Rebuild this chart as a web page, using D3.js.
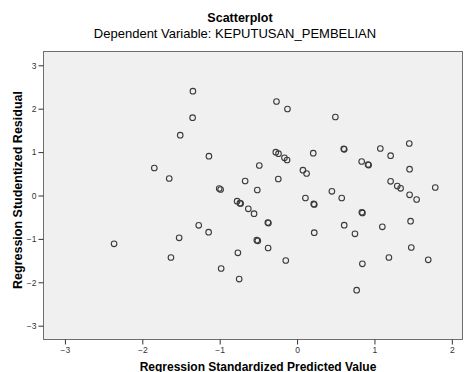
<!DOCTYPE html>
<html>
<head>
<meta charset="utf-8">
<script src="https://cdn.jsdelivr.net/npm/d3@7"></script>
<style>
  body { margin: 0; background: #fff; }
  svg { display: block; font-family: "Liberation Sans", Arial, sans-serif; }
</style>
</head>
<body>
<svg id="chart" width="464" height="372"></svg>
<script>
// predicted (standardized) values
const predicted = [
  -2.365, -1.845, -1.652, -1.630, -1.524, -1.510, -1.350, -1.346, -1.271, -1.143,
  -1.139, -1.006, -0.988, -0.981, -0.775, -0.739, -0.729, -0.765, -0.748, -0.671,
  -0.630, -0.556, -0.514, -0.520, -0.507, -0.488, -0.378, -0.370, -0.374, -0.266,
  -0.275, -0.240, -0.243, -0.163, -0.129, -0.146, -0.124, 0.076, 0.123, 0.108,
  0.209, 0.215, 0.223, 0.222, 0.450, 0.495, 0.577, 0.603, 0.610, 0.609,
  0.748, 0.770, 0.835, 0.837, 0.845, 0.844, 0.917, 0.925, 1.076, 1.102,
  1.187, 1.209, 1.209, 1.295, 1.338, 1.450, 1.454, 1.454, 1.467, 1.476,
  1.545, 1.695, 1.786
];
// studentized residuals, same order
const residual = [
  -1.113, 0.634, 0.392, -1.429, -0.975, 1.389, 1.793, 2.403, -0.687, -0.846,
  0.906, 0.161, 0.138, -1.682, -0.131, -0.177, -0.184, -1.320, -1.926, 0.334,
  -0.306, -0.419, 0.127, -1.030, -1.044, 0.691, -0.622, -0.636, -1.210, 2.166,
  0.998, 0.963, 0.380, 0.869, 0.818, -1.498, 1.993, 0.583, 0.507, -0.058,
  0.975, -0.194, -0.207, -0.857, 0.097, 1.809, -0.058, 1.076, 1.065, -0.684,
  -0.882, -2.182, 0.783, -0.387, -0.401, -1.574, 0.714, 0.700, 1.083, -0.721,
  -1.429, 0.917, 0.327, 0.219, 0.166, 1.198, 0.606, 0.016, -0.592, -1.198,
  -0.092, -1.482, 0.184
];
const xTicks = [-3, -2, -1, 0, 1, 2];
const yTicks = [-3, -2, -1, 0, 1, 2, 3];

const svg = d3.select("#chart");
const plotL = 43.5, plotR = 462.5, plotT = 51.5, plotB = 339.5;

const x = d3.scaleLinear().domain([-3.277, 2.138]).range([plotL, plotR]);
const y = d3.scaleLinear().domain([-3.318, 3.318]).range([plotB, plotT]);

// plot background + frame
svg.append("rect")
  .attr("x", plotL).attr("y", plotT)
  .attr("width", plotR - plotL).attr("height", plotB - plotT)
  .attr("fill", "#f0f0f0")
  .attr("stroke", "#6e6e6e")
  .attr("stroke-width", 1);

// axes
const xAxis = svg.append("g")
  .attr("transform", `translate(0,${plotB})`)
  .call(d3.axisBottom(x).tickValues(xTicks).tickSize(5).tickPadding(2).tickFormat(d3.format("d")));
const yAxis = svg.append("g")
  .attr("transform", `translate(${plotL},0)`)
  .call(d3.axisLeft(y).tickValues(yTicks).tickSize(5).tickPadding(2).tickFormat(d3.format("d")));

[xAxis, yAxis].forEach(a => {
  a.select(".domain").remove();
  a.selectAll(".tick line").attr("stroke", "#333");
  a.selectAll(".tick text")
    .attr("fill", "#333")
    .style("font-size", "8.5px")
    .style("font-family", "'Liberation Sans', Arial, sans-serif");
});

// points
svg.append("g")
  .selectAll("circle")
  .data(predicted.map((p, i) => [p, residual[i]]))
  .join("circle")
  .attr("cx", d => x(d[0]))
  .attr("cy", d => y(d[1]))
  .attr("r", 2.8)
  .attr("fill", "none")
  .attr("stroke", "#3a3a3a")
  .attr("stroke-width", 1.1);

// titles
svg.append("text")
  .attr("x", 240).attr("y", 21.7)
  .attr("text-anchor", "middle")
  .style("font-size", "12.5px").style("font-weight", "bold")
  .text("Scatterplot");
svg.append("text")
  .attr("x", 235).attr("y", 38)
  .attr("text-anchor", "middle")
  .style("font-size", "13px")
  .text("Dependent Variable: KEPUTUSAN_PEMBELIAN");

// axis titles
svg.append("text")
  .attr("x", 258).attr("y", 371)
  .attr("text-anchor", "middle")
  .style("font-size", "12px").style("font-weight", "bold")
  .text("Regression Standardized Predicted Value");
svg.append("text")
  .attr("transform", "translate(21.5,190) rotate(-90)")
  .attr("text-anchor", "middle")
  .style("font-size", "12.5px").style("font-weight", "bold")
  .text("Regression Studentized Residual");
</script>
</body>
</html>
